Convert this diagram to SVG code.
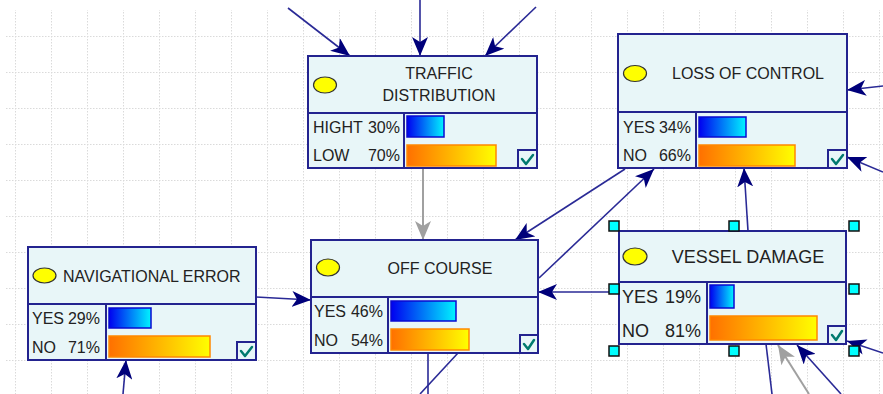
<svg xmlns="http://www.w3.org/2000/svg" width="883" height="394" viewBox="0 0 883 394">
<defs>
<style>
.box{fill:#e8f6f8;stroke:#23238f;stroke-width:2}
.dv{stroke:#23238f;stroke-width:2}
.t{font-family:"Liberation Sans",Arial,sans-serif;font-size:16px;fill:#222}
.tb{font-family:"Liberation Sans",Arial,sans-serif;font-size:18px;fill:#222}
.e{text-anchor:end}
.m{text-anchor:middle}
.ell{fill:#ffff00;stroke:#333;stroke-width:1.2}
.bb{fill:url(#gb);stroke:#0a0ad0;stroke-width:1.5}
.ob{fill:url(#go);stroke:#ff8800;stroke-width:1.5}
.chk{fill:#e8f6f8;stroke:#23238f;stroke-width:2}
.tick{fill:none;stroke:#007a6e;stroke-width:2.5;stroke-linecap:round;stroke-linejoin:round}
.h{fill:#00ffff;stroke:#111;stroke-width:1.5}
.cn{fill:none;stroke:#2a2a96;stroke-width:1.6}
.cg{fill:none;stroke:#a0a0a0;stroke-width:2}
.na{marker-end:url(#an)}
.ga{marker-end:url(#ag)}
</style>
<linearGradient id="gb" x1="0" y1="0" x2="1" y2="0"><stop offset="0" stop-color="#0000f0"/><stop offset="1" stop-color="#00f4ff"/></linearGradient>
<linearGradient id="go" x1="0" y1="0" x2="1" y2="0"><stop offset="0" stop-color="#ff7000"/><stop offset="1" stop-color="#ffff00"/></linearGradient>
<marker id="an" viewBox="0 0 19 16" refX="19" refY="8" markerWidth="19" markerHeight="16" markerUnits="userSpaceOnUse" orient="auto"><path d="M0,0 L19,8 L0,16 L5,8 z" fill="#00007a"/></marker>
<marker id="ag" viewBox="0 0 19 16" refX="19" refY="8" markerWidth="19" markerHeight="16" markerUnits="userSpaceOnUse" orient="auto"><path d="M0,0 L19,8 L0,16 L5,8 z" fill="#a0a0a0"/></marker>
<pattern id="grid" x="15" y="0" width="36" height="36" patternUnits="userSpaceOnUse">
<line x1="0.5" y1="0" x2="0.5" y2="36" stroke="#dadada" stroke-width="1" stroke-dasharray="1.5 1.5"/>
<line x1="0" y1="0.5" x2="36" y2="0.5" stroke="#dadada" stroke-width="1" stroke-dasharray="1.5 1.5"/>
</pattern>
</defs>
<rect x="0" y="0" width="883" height="394" fill="#ffffff"/>
<rect x="5" y="10" width="878" height="384" fill="url(#grid)"/>

<g id="connectors">
<line class="cn na" x1="288" y1="8" x2="350" y2="56"/>
<line class="cn na" x1="420" y1="0" x2="420" y2="56"/>
<line class="cn na" x1="536" y1="7" x2="485" y2="56"/>
<line class="cg ga" x1="423" y1="168" x2="423" y2="240"/>
<line class="cn na" x1="625" y1="169" x2="515" y2="240"/>
<line class="cn na" x1="539" y1="278" x2="654" y2="169"/>
<line class="cn na" x1="619" y1="292" x2="538" y2="292"/>
<line class="cn na" x1="748" y1="231" x2="744" y2="168"/>
<line class="cn na" x1="883" y1="86" x2="847" y2="90"/>
<line class="cn na" x1="883" y1="172" x2="847" y2="157"/>
<line class="cn na" x1="256" y1="297" x2="311" y2="300"/>
<line class="cn na" x1="123" y1="394" x2="126" y2="360"/>
<line class="cn" x1="428" y1="353" x2="428" y2="394"/>
<line class="cn" x1="458" y1="353" x2="420" y2="394"/>
<line class="cn" x1="766" y1="344" x2="772" y2="394"/>
<line class="cg ga" x1="809" y1="394" x2="778" y2="345"/>
<line class="cn na" x1="841" y1="394" x2="797" y2="345"/>
<line class="cn na" x1="883" y1="353" x2="847" y2="341"/>
</g>

<g id="traffic-distribution">
<rect class="box" x="308" y="56" width="229" height="112"/>
<line class="dv" x1="308" y1="113" x2="537" y2="113"/>
<line class="dv" x1="404" y1="113" x2="404" y2="168"/>
<ellipse class="ell" cx="325" cy="85" rx="11.5" ry="8"/>
<text class="t m" x="439" y="79">TRAFFIC</text>
<text class="t m" x="439" y="101">DISTRIBUTION</text>
<text class="t" x="313" y="133">HIGHT</text><text class="t e" x="400" y="133">30%</text>
<text class="t" x="313" y="161">LOW</text><text class="t e" x="400" y="161">70%</text>
<rect class="bb" x="407" y="116" width="37" height="21"/>
<rect class="ob" x="407" y="145" width="89" height="21"/>
<rect class="chk" x="518" y="150" width="19" height="18"/>
<path class="tick" d="M522,159 L526,164 L533,155"/>
</g>

<g id="loss-of-control">
<rect class="box" x="618" y="34" width="229" height="134"/>
<line class="dv" x1="618" y1="112" x2="847" y2="112"/>
<line class="dv" x1="696" y1="112" x2="696" y2="168"/>
<ellipse class="ell" cx="635" cy="73.5" rx="11.5" ry="8"/>
<text class="t m" x="748" y="79">LOSS OF CONTROL</text>
<text class="t" x="623" y="133">YES</text><text class="t e" x="691" y="133">34%</text>
<text class="t" x="623" y="161">NO</text><text class="t e" x="691" y="161">66%</text>
<rect class="bb" x="699" y="117" width="47" height="20"/>
<rect class="ob" x="699" y="145" width="96" height="21"/>
<rect class="chk" x="828" y="150" width="19" height="18"/>
<path class="tick" d="M832,159 L836,164 L843,155"/>
</g>

<g id="navigational-error">
<rect class="box" x="28" y="247" width="228" height="113"/>
<line class="dv" x1="28" y1="304" x2="256" y2="304"/>
<line class="dv" x1="106" y1="304" x2="106" y2="360"/>
<ellipse class="ell" cx="44.5" cy="275.5" rx="11.5" ry="7.5"/>
<text class="t" x="63" y="282">NAVIGATIONAL ERROR</text>
<text class="t" x="32" y="324">YES</text><text class="t e" x="100" y="324">29%</text>
<text class="t" x="32" y="353">NO</text><text class="t e" x="100" y="353">71%</text>
<rect class="bb" x="109" y="308" width="42" height="20"/>
<rect class="ob" x="109" y="336" width="101" height="21"/>
<rect class="chk" x="237" y="342" width="19" height="18"/>
<path class="tick" d="M241,351 L245,356 L252,347"/>
</g>

<g id="off-course">
<rect class="box" x="311" y="240" width="227" height="113"/>
<line class="dv" x1="311" y1="297" x2="538" y2="297"/>
<line class="dv" x1="388" y1="297" x2="388" y2="353"/>
<ellipse class="ell" cx="328" cy="267.5" rx="11.5" ry="8.5"/>
<text class="t m" x="440" y="274">OFF COURSE</text>
<text class="t" x="314" y="317">YES</text><text class="t e" x="383" y="317">46%</text>
<text class="t" x="314" y="346">NO</text><text class="t e" x="383" y="346">54%</text>
<rect class="bb" x="391" y="301" width="65" height="20"/>
<rect class="ob" x="391" y="329" width="78" height="21"/>
<rect class="chk" x="520" y="335" width="18" height="18"/>
<path class="tick" d="M524,344 L528,349 L534,340"/>
</g>

<g id="vessel-damage">
<rect class="box" x="619" y="231" width="227" height="113"/>
<line class="dv" x1="619" y1="282" x2="846" y2="282"/>
<line class="dv" x1="707" y1="282" x2="707" y2="344"/>
<ellipse class="ell" cx="635" cy="256.5" rx="12" ry="8.5"/>
<text class="tb m" x="748" y="263">VESSEL DAMAGE</text>
<text class="tb" x="622" y="303">YES</text><text class="tb e" x="701" y="303">19%</text>
<text class="tb" x="622" y="337">NO</text><text class="tb e" x="701" y="337">81%</text>
<rect class="bb" x="710" y="285" width="24" height="23"/>
<rect class="ob" x="710" y="316" width="107" height="24"/>
<rect class="chk" x="828" y="326" width="18" height="18"/>
<path class="tick" d="M832,335 L836,340 L842,331"/>
<rect class="h" x="609" y="221" width="10" height="10"/>
<rect class="h" x="729" y="221" width="10" height="10"/>
<rect class="h" x="849" y="221" width="10" height="10"/>
<rect class="h" x="609" y="284" width="10" height="10"/>
<rect class="h" x="849" y="284" width="10" height="10"/>
<rect class="h" x="609" y="346" width="10" height="10"/>
<rect class="h" x="729" y="346" width="10" height="10"/>
<rect class="h" x="849" y="346" width="10" height="10"/>
</g>
</svg>
